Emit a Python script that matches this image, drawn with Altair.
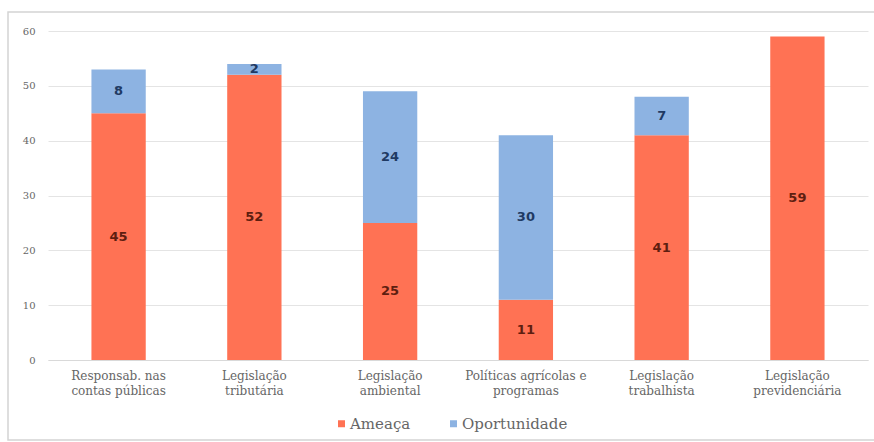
import altair as alt
import pandas as pd

# Categories (two-line labels) and counts per perception type
categorias = [
    "Responsab. nas\ncontas públicas",
    "Legislação\ntributária",
    "Legislação\nambiental",
    "Políticas agrícolas e\nprogramas",
    "Legislação\ntrabalhista",
    "Legislação\nprevidenciária",
]
series = ["Ameaça", "Oportunidade"]
ameaca = [45, 52, 25, 11, 41, 59]
oportunidade = [8, 2, 24, 30, 7, 0]

cores_barras = ["#FF7254", "#8DB3E2"]
cores_rotulos = ["#5E1E10", "#1F3A63"]

rows = []
for cat, a, o in zip(categorias, ameaca, oportunidade):
    for serie, v in zip(series, (a, o)):
        if v > 0:
            rows.append({"categoria": cat, "serie": serie, "valor": v})
df = pd.DataFrame(rows)

W, H = 820, 329

x_enc = alt.X(
    "categoria:N",
    sort=categorias,
    scale=alt.Scale(paddingInner=0.6, paddingOuter=0.32),
    axis=alt.Axis(
        title=None,
        labelAngle=0,
        labelExpr="split(datum.label, '\\n')",
        labelFont="DejaVu Serif",
        labelFontSize=12,
        labelColor="#666666",
        labelLineHeight=15,
        labelPadding=10,
        ticks=False,
        domainColor="#d9d9d9",
        grid=False,
    ),
)

base = alt.Chart(df)

bars = base.mark_bar().encode(
    x=x_enc,
    y=alt.Y(
        "valor:Q",
        stack="zero",
        scale=alt.Scale(domain=[0, 60], nice=False),
        axis=alt.Axis(
            title=None,
            values=[0, 10, 20, 30, 40, 50, 60],
            labelFont="DejaVu Serif",
            labelFontSize=10,
            labelColor="#666666",
            labelPadding=13,
            ticks=False,
            domain=False,
            gridColor="#e4e4e4",
            gridWidth=1,
        ),
    ),
    color=alt.Color(
        "serie:N",
        scale=alt.Scale(domain=series, range=cores_barras),
        legend=alt.Legend(
            title=None,
            orient="none",
            legendX=286,
            legendY=385,
            direction="horizontal",
            symbolType="square",
            symbolSize=49,
            symbolStrokeWidth=0,
            labelFont="DejaVu Serif",
            labelFontSize=15,
            labelColor="#666666",
            labelOffset=1,
            columnPadding=35,
            padding=0,
        ),
    ),
    order=alt.Order("serie:N"),
)

rotulos = (
    base.transform_stack(
        stack="valor",
        groupby=["categoria"],
        sort=[alt.SortField("serie")],
        as_=["v0", "v1"],
    )
    .transform_calculate(meio="(datum.v0 + datum.v1) / 2")
    .mark_text(font="DejaVu Sans", fontSize=13, fontWeight="bold")
    .encode(
        x=alt.X("categoria:N", sort=categorias),
        y=alt.Y("meio:Q"),
        text=alt.Text("valor:Q"),
        color=alt.condition(
            "datum.serie == 'Ameaça'",
            alt.value(cores_rotulos[0]),
            alt.value(cores_rotulos[1]),
        ),
    )
)

# Outer frame around the whole chart area
moldura = (
    alt.Chart(alt.Data(values=[{"frame": 1}]))
    .mark_rect(fillOpacity=0, stroke="#d4d4d4", strokeWidth=1.5)
    .encode(
        x=alt.value(-40),
        x2=alt.value(834),
        y=alt.value(-19),
        y2=alt.value(409),
    )
)

chart = (
    alt.layer(moldura, bars, rotulos)
    .properties(
        width=W,
        height=H,
        autosize=alt.AutoSizeParams(type="none"),
        padding={"left": 48, "top": 31, "right": 6, "bottom": 82},
        background="white",
    )
    .configure_view(stroke=None)
)

chart.save("out.html", embed_options={"renderer": "svg", "actions": False})
